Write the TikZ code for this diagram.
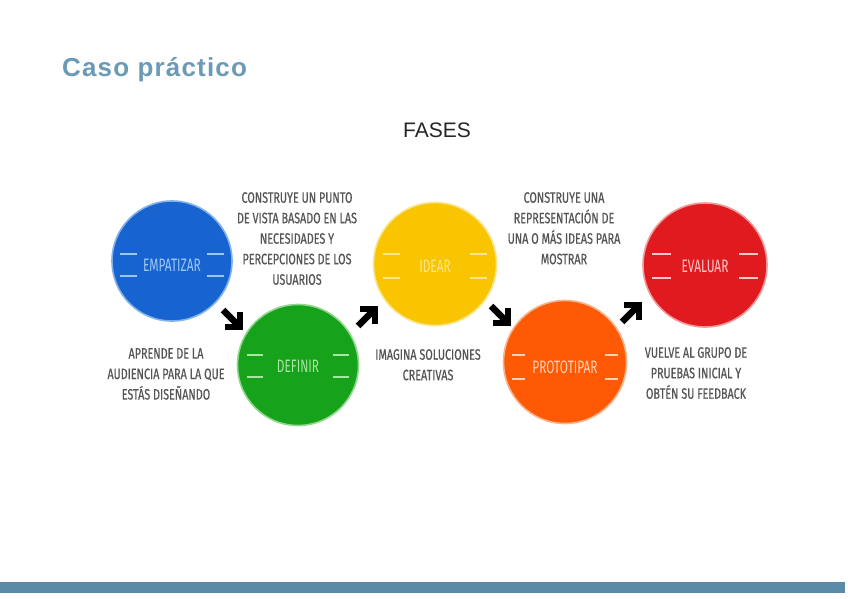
\documentclass[tikz,border=0pt]{standalone}
\usepackage{fontspec}
\setmainfont{Liberation Sans}
\newfontfamily\titlefont[LetterSpace=4.5]{Liberation Sans}
\newfontfamily\descfont[FakeStretch=0.72,FakeBold=0.5]{Fira Sans}
\newfontfamily\labelfont[FakeStretch=0.66]{Fira Sans}
\usetikzlibrary{calc}
\definecolor{titleblue}{HTML}{6A9AB5}
\definecolor{barblue}{HTML}{5A8CAA}
\definecolor{descgrey}{HTML}{555555}
\definecolor{empfill}{HTML}{1763CF}
\definecolor{empborder}{HTML}{7FB0EA}
\definecolor{emptext}{HTML}{9CC7F5}
\definecolor{deffill}{HTML}{16A21A}
\definecolor{defborder}{HTML}{8FD88A}
\definecolor{deftext}{HTML}{A5E6A0}
\definecolor{idefill}{HTML}{F8C500}
\definecolor{ideborder}{HTML}{FBE48A}
\definecolor{idetext}{HTML}{FDE58A}
\definecolor{profill}{HTML}{FE5A05}
\definecolor{proborder}{HTML}{F8B38C}
\definecolor{protext}{HTML}{FFD2B5}
\definecolor{evafill}{HTML}{E11A1F}
\definecolor{evaborder}{HTML}{F29A9A}
\definecolor{evatext}{HTML}{FFC9C9}
\tikzset{
  phase/.style={circle, inner sep=0pt, line width=1.6pt},
  plabel/.style={font=\labelfont\fontsize{18}{18}\selectfont, inner sep=1pt},
  desc/.style={font=\descfont\fontsize{15}{20.5}\selectfont, text=descgrey, align=center, inner sep=0pt, anchor=north},
  deco/.style={line width=1.1pt},
  arr/.style={line width=6.5pt, draw=black, miter limit=10},
}
\newcommand\declines[5]{%
  \foreach \s in {-1,1}{\foreach \t in {-1,1}{%
    \draw[deco, draw=#5] ($(#1)+(\s*#2,\t*#4)$) -- ($(#1)+(\s*#3,\t*#4)$);
  }}}
\begin{document}
\begin{tikzpicture}[x=1pt,y=-1pt]
\useasboundingbox (0,0) rectangle (848,599);
\fill[white] (0,0) rectangle (848,599);

% title and bar
\node[anchor=base west, inner sep=0pt, text=titleblue, font=\titlefont\bfseries\fontsize{26}{30}\selectfont] (title) at (62,77) {Caso práctico};
\fill[barblue] (0,582) rectangle (845,593);

\node[anchor=base, inner sep=0pt, font=\fontsize{21}{24}\selectfont, text=black!85] (fases) at (437,137) {FASES};

% circles
\node[phase, minimum size=120pt, fill=empfill, draw=empborder] (emp) at (172,261) {};
\node[phase, minimum size=121pt, fill=deffill, draw=defborder] (def) at (298,365) {};
\node[phase, minimum size=123pt, fill=idefill, draw=ideborder] (ide) at (435,264) {};
\node[phase, minimum size=123pt, fill=profill, draw=proborder] (pro) at (565,362) {};
\node[phase, minimum size=124pt, fill=evafill, draw=evaborder] (eva) at (705,265) {};

% labels
\node[plabel, text=emptext] (emplab) at ($(emp)+(0,4)$) {EMPATIZAR};
\node[plabel, text=deftext] (deflab) at ($(def)+(0,1)$) {DEFINIR};
\node[plabel, text=idetext] (idelab) at ($(ide)+(0,2)$) {IDEAR};
\node[plabel, text=protext] (prolab) at ($(pro)+(0,5)$) {PROTOTIPAR};
\node[plabel, text=evatext] (evalab) at ($(eva)+(0,1)$) {EVALUAR};

\declines{emplab}{35}{52}{11}{emptext}
\declines{deflab}{35}{51}{11}{deftext}
\declines{idelab}{35}{52}{12}{idetext}
\declines{prolab}{40}{53}{12}{protext}
\declines{evalab}{34}{53}{12}{evatext}

% descriptions
\node[desc] (d1) at (297,192) {CONSTRUYE UN PUNTO\\DE VISTA BASADO EN LAS\\NECESIDADES Y\\PERCEPCIONES DE LOS\\USUARIOS};
\node[desc] (d2) at (166,348) {APRENDE DE LA\\AUDIENCIA PARA LA QUE\\ESTÁS DISEÑANDO};
\node[desc] (d3) at (428,349) {IMAGINA SOLUCIONES\\CREATIVAS};
\node[desc] (d4) at (564,192) {CONSTRUYE UNA\\REPRESENTACIÓN DE\\UNA O MÁS IDEAS PARA\\MOSTRAR};
\node[desc] (d5) at (696,347) {VUELVE AL GRUPO DE\\PRUEBAS INICIAL Y\\OBTÉN SU FEEDBACK};

% arrows
\coordinate (a1s) at (223,310); \coordinate (a1e) at (240,327);
\coordinate (a2s) at (358,326); \coordinate (a2e) at (375,309);
\coordinate (a3s) at (491,306); \coordinate (a3e) at (508,323);
\coordinate (a4s) at (622,322); \coordinate (a4e) at (639,305);
\draw[arr] (a1s) -- ($(a1e)+(-2,-2)$);
\draw[arr] ($(a1e)+(-15,0)$) -- (a1e) -- ($(a1e)+(0,-15)$);
\draw[arr] (a2s) -- ($(a2e)+(-2,2)$);
\draw[arr] ($(a2e)+(-15,0)$) -- (a2e) -- ($(a2e)+(0,15)$);
\draw[arr] (a3s) -- ($(a3e)+(-2,-2)$);
\draw[arr] ($(a3e)+(-15,0)$) -- (a3e) -- ($(a3e)+(0,-15)$);
\draw[arr] (a4s) -- ($(a4e)+(-2,2)$);
\draw[arr] ($(a4e)+(-15,0)$) -- (a4e) -- ($(a4e)+(0,15)$);
\end{tikzpicture}
\end{document}
